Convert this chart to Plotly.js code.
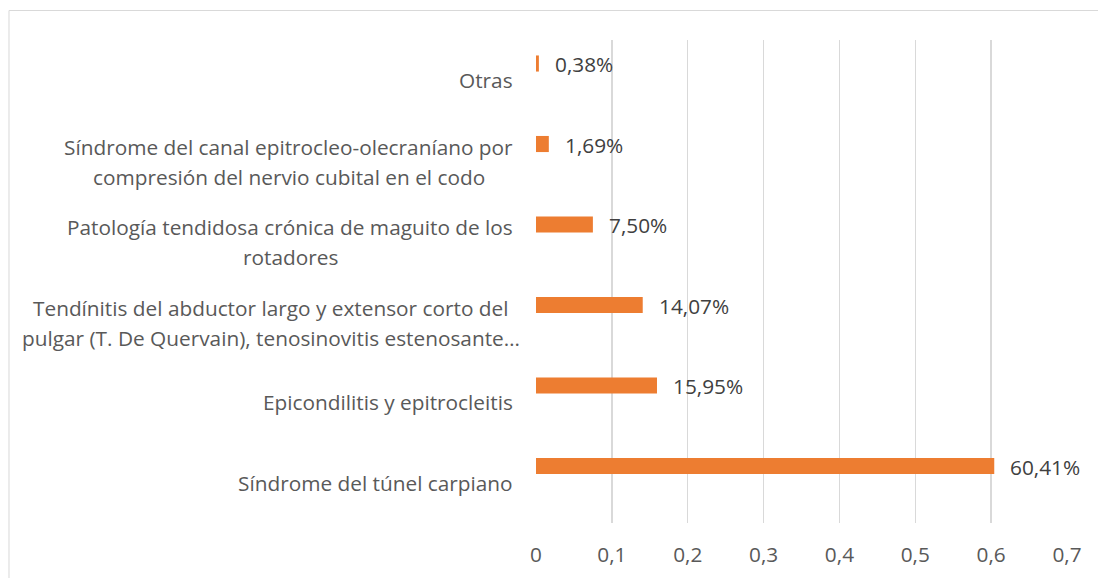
<!DOCTYPE html>
<html>
<head>
<meta charset="utf-8">
<script src="https://cdn.plot.ly/plotly-3.0.1.min.js"></script>
<style>html,body{margin:0;padding:0;background:#fff;}#chart{width:1098px;height:578px;}</style>
</head>
<body>
<div id="chart"></div>
<script>
// Categories listed bottom to top (as drawn)
const categories = [
  "Síndrome del túnel carpiano",
  "Epicondilitis y epitrocleitis",
  "Tendínitis del abductor largo y extensor corto del<br>pulgar (T. De Quervain), tenosinovitis estenosante…",
  "Patología tendidosa crónica de maguito de los<br>rotadores",
  "Síndrome del canal epitrocleo-olecraníano por<br>compresión del nervio cubital en el codo",
  "Otras"
];
const values = [0.6041, 0.1595, 0.1407, 0.075, 0.0169, 0.0038];
const xTicks = [0, 0.1, 0.2, 0.3, 0.4, 0.5, 0.6, 0.7];

const FONT = "Open Sans";
const FS = 20.8;
const TXT = "#595959";

// plot-area geometry (pixels)
const L = 536, R = 30.5, T = 40, B = 55;
const W = 1098 - L - R, H = 578 - T - B;

const canvas = document.createElement("canvas");
const ctx = canvas.getContext("2d");
ctx.font = FS + "px '" + FONT + "'";

const annotations = [];
categories.forEach((c, i) => {
  const lines = c.split("<br>");
  const widths = lines.map(s => ctx.measureText(s).width);
  const maxW = Math.max(...widths);
  const rightEdge = 513;
  const centerPx = Math.max(rightEdge - maxW / 2, 22 + maxW / 2);
  const n = lines.length;
  lines.forEach((s, k) => {
    annotations.push({
      xref: "paper", yref: "y", x: 0, y: c,
      xanchor: "center", yanchor: "middle",
      xshift: centerPx - L,
      yshift: ((n - 1) / 2 - k) * 30 - (n > 1 ? 1 : 0),
      text: s, showarrow: false,
      font: {family: FONT, size: FS, color: TXT}
    });
  });
  // data label
  annotations.push({
    xref: "x", yref: "y", x: values[i], y: c,
    xanchor: "left", yanchor: "middle",
    xshift: 14, yshift: 16,
    text: (values[i] * 100).toFixed(2).replace(".", ",") + "%",
    showarrow: false,
    font: {family: FONT, size: FS, color: "#404040"}
  });
});

// border around chart area
const px2x = p => (p - L) / W;
const py2y = p => (578 - B - p) / H;
const shapes = [{
  type: "rect", xref: "paper", yref: "paper",
  x0: px2x(8.5), x1: px2x(1110), y0: py2y(620), y1: py2y(10.5),
  line: {color: "#d9d9d9", width: 1}, fillcolor: "rgba(0,0,0,0)", layer: "below"
}];

const trace = {
  type: "bar", orientation: "h",
  y: categories, x: values,
  width: 0.2, offset: 0.108,
  marker: {color: "#ED7D31"},
  hoverinfo: "none"
};

const layout = {
  width: 1098, height: 578,
  margin: {l: L, r: R, t: T, b: B, pad: 0},
  paper_bgcolor: "#fff", plot_bgcolor: "#fff",
  separators: ", ",
  showlegend: false,
  font: {family: FONT, size: FS, color: TXT},
  xaxis: {
    range: [0, 0.7], tickvals: xTicks,
    showgrid: true, gridcolor: "#d9d9d9", gridwidth: 1.5,
    zeroline: false, showline: false,
    ticks: "outside", ticklen: 13, tickcolor: "rgba(0,0,0,0)",
    tickfont: {family: FONT, size: FS, color: TXT},
    fixedrange: true
  },
  yaxis: {
    range: [-0.5, 5.5],
    showticklabels: false, showgrid: false, zeroline: false, showline: false,
    ticks: "", fixedrange: true
  },
  shapes: shapes,
  annotations: annotations
};

Plotly.newPlot("chart", [trace], layout, {displayModeBar: false, staticPlot: true});
</script>
</body>
</html>
